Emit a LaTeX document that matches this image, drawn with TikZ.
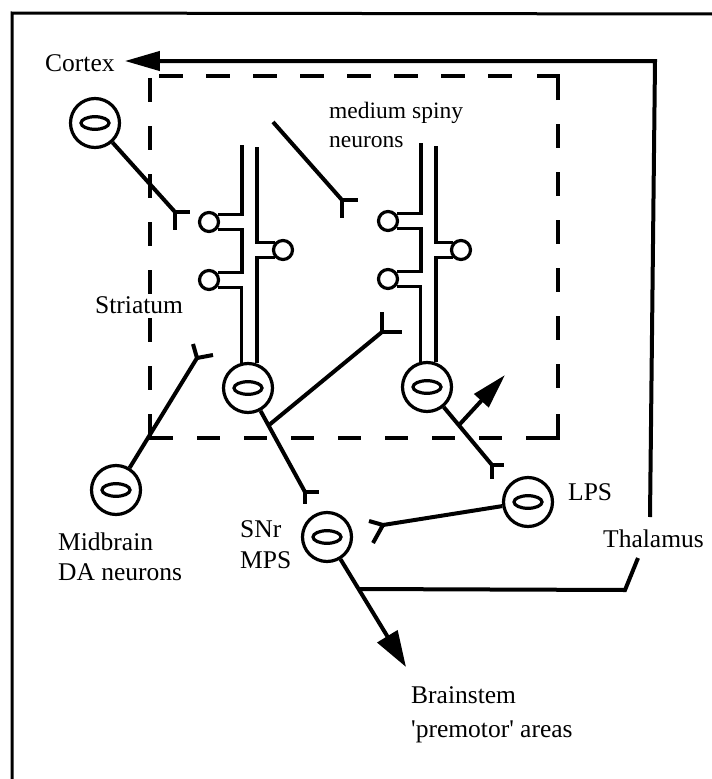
\documentclass[tikz,border=0pt]{standalone}
\usepackage{fontspec}
\setmainfont{Liberation Serif}
\usetikzlibrary{arrows.meta,calc}
\begin{document}
\begin{tikzpicture}[x=1pt,y=-1pt,
  ln/.style={line width=3.2pt},
  ax/.style={line width=4pt},
  dseg/.style={line width=3.5pt},
  soma/.style={circle,draw,line width=3.2pt,minimum size=49pt,inner sep=0pt,
    path picture={\draw[line width=3.2pt] (path picture bounding box.center) ellipse [x radius=14pt, y radius=6.3pt];}},
  spine/.style={circle,draw,line width=3.2pt,minimum size=19pt,inner sep=0pt},
  lbl/.style={anchor=base west,inner sep=0pt,font=\fontsize{25.5}{30}\selectfont},
  slbl/.style={anchor=base west,inner sep=0pt,font=\fontsize{23.5}{28}\selectfont},
  bigarrow/.style={-{Triangle[length=35pt,width=19pt]}},
  bigarrowb/.style={-{Triangle[length=36pt,width=23pt]}},
]
\useasboundingbox (0,0) rectangle (712,779);

% outer frame (partly cut off)
\draw[line width=3pt] (12,779) -- (12,13) -- (712,14);

% dashed striatum box
\foreach \y in {78,126,...,366} \draw[dseg] (150,\y) -- (150,\y+24);
\draw[dseg] (150,414) -- (150,438) -- (173,438);
\foreach \x in {197,244,...,479} \draw[dseg] (\x,438) -- (\x+23,438);
\draw[dseg] (526,438) -- (558,438) -- (558,414);
\foreach \y in {124,172,...,366} \draw[dseg] (558,\y) -- (558,\y+24);
\draw[dseg] (558,100) -- (558,76) -- (537,76);
\foreach \x in {159,206,...,488} \draw[dseg] (\x,76) -- (\x+24,76);

% labels
\node[lbl] (cortex) at (45,71) {Cortex};
\node[slbl] (msn1) at (329,118) {medium spiny};
\node[slbl] (msn2) at (329,147) {neurons};
\node[lbl] (striatum) at (95,313) {Striatum};
\node[lbl] (midbrain) at (58,550) {Midbrain};
\node[lbl] (daneur) at (58,580) {DA neurons};
\node[lbl] (snrlbl) at (240,537) {SNr};
\node[lbl] (mpslbl) at (240,568) {MPS};
\node[lbl] (lpslbl) at (568,500) {LPS};
\node[lbl] (thal) at (603,547) {Thalamus};
\node[lbl] (brain1) at (411,703) {Brainstem};
\node[lbl] (brain2) at (411,737) {\textquotesingle premotor\textquotesingle{} areas};

% neurons
\node[soma] (ctx) at (95,123) {};
\node[soma] (msnL) at (248,388) {};
\node[soma] (msnR) at (427,387) {};
\node[soma] (da) at (116,490) {};
\node[soma] (snr) at (327,537) {};
\node[soma] (lps) at (528,502) {};

% spines
\node[spine] (s1) at (209,222) {};
\node[spine] (s2) at (283,250) {};
\node[spine] (s3) at (209,280) {};
\node[spine] (s4) at (388,221) {};
\node[spine] (s5) at (461,250) {};
\node[spine] (s6) at (388,279) {};

% dendrites, left MSN
\coordinate (dL1) at (242,145);
\coordinate (dL2) at (257,147);
\draw[ln] (dL1) |- (s1.40);
\draw[ln] (s1.-40) -| (s3.40 -| dL1) -- (s3.40);
\draw[ln] (s3.-40) -| (msnL.104);
\draw[ln] (dL2) |- (s2.140);
\draw[ln] (s2.220) -| (msnL.70);

% dendrites, right MSN
\coordinate (dR1) at (421,143);
\coordinate (dR2) at (436,146);
\draw[ln] (dR1) |- (s4.40);
\draw[ln] (s4.-40) -| (s6.40 -| dR1) -- (s6.40);
\draw[ln] (s6.-40) -| (msnR.104);
\draw[ln] (dR2) |- (s5.140);
\draw[ln] (s5.220) -| (msnR.70);

% fork terminals (junctions)
\coordinate (f1) at (175,212);
\coordinate (f2) at (342,200);
\coordinate (f3) at (305,492);
\coordinate (f4) at (382,332);
\coordinate (f5) at (492,465);
\coordinate (f6) at (197,358);
\coordinate (f7) at (383,525);
\coordinate (c2s) at (273,122);

% cortical inputs
\draw[ax] (ctx) -- (f1);
\draw[ax] (f1) -- (190,212) (f1) -- (175,230);
\draw[ax] (c2s) -- (f2);
\draw[ax] (f2) -- (358,200) (f2) -- (342,218);

% left MSN axon with collateral
\draw[ax] (msnL) -- (f3);
\draw[ax] (f3) -- (319,492) (f3) -- (305,504);
\coordinate (j1) at ($(msnL)!0.36!(f3)$);
\draw[ax] (j1) -- (f4);
\draw[ax] (f4) -- (382,312) (f4) -- (402,332);

% right MSN axon with arrow collateral
\draw[ax] (msnR) -- (f5);
\draw[ax] (f5) -- (504,465) (f5) -- (492,479);
\coordinate (j2) at ($(msnR)!0.49!(f5)$);
\coordinate (ca) at (505,375);
\draw[ax,bigarrow] (j2) -- (ca);

% dopamine input
\draw[ax] (da) -- (f6);
\draw[ax] (f6) -- (193,344) (f6) -- (213,355);

% LPS to SNr
\draw[ax] (lps) -- (f7);
\draw[ax] (f7) -- (369,521) (f7) -- (373,543);

% SNr output
\coordinate (bt) at (406,667);
\draw[ax,bigarrowb] (snr) -- (bt);
\coordinate (j3) at ($(snr)!0.4!(bt)$);
\coordinate (tk) at (625,590);
\coordinate (thC) at (638,558);
\draw[ax] (j3) -- (tk) -- (thC);

% thalamus to cortex
\coordinate (thA) at (650,517);
\coordinate (thB) at (655,61);
\draw[ax,bigarrow,shorten >=10pt] (thA) -- (thB) -- (thB -| cortex.east);
\end{tikzpicture}
\end{document}
